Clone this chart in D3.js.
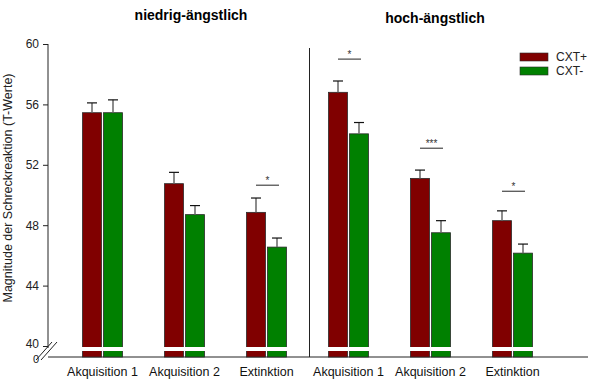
<!DOCTYPE html>
<html>
<head>
<meta charset="utf-8">
<script src="https://cdn.jsdelivr.net/npm/d3@7"></script>
<style>
body{margin:0;background:#fff;}
text{font-family:Arial,"Liberation Sans",sans-serif;}
</style>
</head>
<body>
<script>
// conditions (3 per anxiety group)
var phases = ["Akquisition 1","Akquisition 2","Extinktion","Akquisition 1","Akquisition 2","Extinktion"];
var groups = ["niedrig-ängstlich","hoch-ängstlich"];
var series = ["CXT+","CXT-"];
var cxtPlus  = [55.45, 50.75, 48.85, 56.8, 51.1, 48.3];
var cxtMinus = [55.45, 48.7, 46.55, 54.05, 47.5, 46.15];
var errPlus  = [0.65, 0.75, 0.95, 0.75, 0.55, 0.65];
var errMinus = [0.85, 0.6, 0.6, 0.75, 0.8, 0.6];
var sigStars = ["", "", "*", "*", "***", "*"];
var sigLevel = [null, null, 50.65, 59.0, 53.1, 50.25];
var yTicks = [40,44,48,52,56,60];
var colors = ["#800000","#008000"];

var width = 600, height = 384;
var svg = d3.select("body").append("svg").attr("width",width).attr("height",height);

var y = d3.scaleLinear().domain([40,60]).range([346,44]);
var x = d3.scalePoint().domain(d3.range(phases.length)).range([102.5,512.5]);
var baseY = 357, axisX = 48, barW = 19, gap = 2;

// y axis
var yAxis = d3.axisLeft(y).tickValues(yTicks).tickSize(5).tickPadding(4);
var ya = svg.append("g").attr("transform","translate("+axisX+",0)").call(yAxis);
ya.select(".domain").remove();
ya.selectAll("text").attr("font-size",12).attr("fill","#222");
ya.selectAll("line").attr("stroke","#222");
ya.selectAll(".tick").filter(function(d){return d===40;}).select("text").attr("dy","0.1em");
svg.append("line").attr("x1",axisX).attr("x2",axisX).attr("y1",y(60)).attr("y2",348).attr("stroke","#222");
svg.append("text").attr("x",39).attr("y",baseY+6).attr("text-anchor","end").attr("font-size",11).attr("fill","#222").text("0");
// axis break marks
[0,5].forEach(function(o){
  svg.append("line").attr("x1",36+o).attr("y1",360).attr("x2",52+o).attr("y2",342)
    .attr("stroke","#222").attr("stroke-width",1);
});
// x baseline
svg.append("line").attr("x1",axisX).attr("x2",588).attr("y1",baseY).attr("y2",baseY).attr("stroke","#222");
// divider
var divX = (x(2)+x(3))/2 + 2;
svg.append("line").attr("x1",divX).attr("x2",divX).attr("y1",48).attr("y2",baseY).attr("stroke","#222");

// y title
svg.append("text").attr("transform","translate(12,188) rotate(-90)").attr("text-anchor","middle")
  .attr("font-size",12.5).attr("fill","#222").text("Magnitude der Schreckreaktion (T-Werte)");

// group titles
svg.append("text").attr("x",191).attr("y",20).attr("text-anchor","middle").attr("font-size",14)
  .attr("font-weight","bold").text(groups[0]);
svg.append("text").attr("x",435).attr("y",23).attr("text-anchor","middle").attr("font-size",14)
  .attr("font-weight","bold").text(groups[1]);

// bars
var vals = [cxtPlus, cxtMinus], errs = [errPlus, errMinus];
vals.forEach(function(arr,s){
  var off = s===0 ? -(barW+gap)/2 : (barW+gap)/2;
  var g = svg.append("g");
  g.selectAll("rect").data(arr).enter().append("rect")
    .attr("x",function(d,i){return x(i)+off-barW/2;})
    .attr("y",function(d){return y(d);})
    .attr("width",barW)
    .attr("height",function(d){return baseY-y(d);})
    .attr("fill",colors[s]).attr("stroke","#2a2a2a").attr("stroke-width",0.8);
  // error bars
  g.selectAll("line.stem").data(arr).enter().append("line").attr("class","stem")
    .attr("x1",function(d,i){return x(i)+off;}).attr("x2",function(d,i){return x(i)+off;})
    .attr("y1",function(d){return y(d);})
    .attr("y2",function(d,i){return y(d+errs[s][i]);})
    .attr("stroke","#666").attr("stroke-width",1.5);
  g.selectAll("line.cap").data(arr).enter().append("line").attr("class","cap")
    .attr("x1",function(d,i){return x(i)+off-5;}).attr("x2",function(d,i){return x(i)+off+5;})
    .attr("y1",function(d,i){return y(d+errs[s][i]);})
    .attr("y2",function(d,i){return y(d+errs[s][i]);})
    .attr("stroke","#111").attr("stroke-width",1.2);
});

// axis break white stripe across bars
phases.forEach(function(p,i){
  svg.append("rect").attr("x",x(i)-barW-gap).attr("y",347).attr("width",2*barW+2*gap+1).attr("height",4).attr("fill","#fff");
});

// x labels
svg.selectAll("text.xl").data(phases).enter().append("text").attr("class","xl")
  .attr("x",function(d,i){return x(i);}).attr("y",376).attr("text-anchor","middle")
  .attr("font-size",12.5).attr("fill","#111").text(function(d){return d;});

// significance markers
sigStars.forEach(function(st,i){
  if(!st) return;
  var cx = x(i)+1, yy = y(sigLevel[i]);
  svg.append("line").attr("x1",cx-11.5).attr("x2",cx+11.5).attr("y1",yy).attr("y2",yy).attr("stroke","#222");
  svg.append("text").attr("x",cx).attr("y",yy-1).attr("text-anchor","middle").attr("font-size",10).attr("fill","#333").text(st);
});

// legend
series.forEach(function(s,i){
  svg.append("rect").attr("x",520).attr("y",53+i*14).attr("width",28).attr("height",8)
    .attr("fill",colors[i]).attr("stroke","#2a2a2a").attr("stroke-width",0.6);
  svg.append("text").attr("x",556).attr("y",61+i*14).attr("font-size",12).attr("fill","#222").text(s);
});
</script>
</body>
</html>
